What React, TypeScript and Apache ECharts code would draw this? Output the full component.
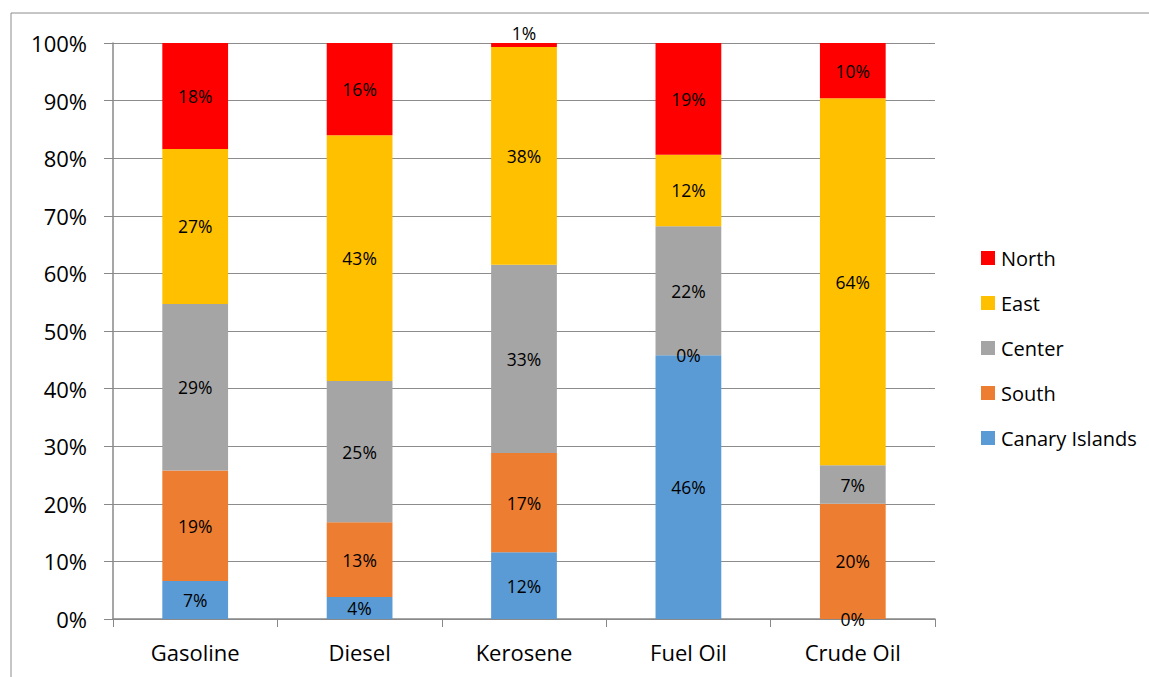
import React, { useEffect, useRef } from "react";
import * as echarts from "echarts";

const categories = ["Gasoline", "Diesel", "Kerosene", "Fuel Oil", "Crude Oil"];
const canaryIslands = [6.6, 3.8, 11.6, 45.8, 0];
const south = [19.2, 13.0, 17.2, 0, 20.0];
const center = [28.9, 24.5, 32.7, 22.4, 6.7];
const east = [26.9, 42.7, 37.8, 12.4, 63.7];
const north = [18.4, 16.0, 0.7, 19.4, 9.6];
const yTicks = [0, 10, 20, 30, 40, 50, 60, 70, 80, 90, 100];

const FONT = "'Open Sans', 'Liberation Sans', sans-serif";

export default function App() {
  const ref = useRef<HTMLDivElement>(null);
  useEffect(() => {
    if (!ref.current) return;
    const chart = echarts.init(ref.current, null, { renderer: "svg" });
    const mk = (name: string, data: number[], color: string) => ({
      name,
      type: "bar",
      stack: "total",
      barWidth: "40%",
      itemStyle: { color },
      label: {
        show: true,
        position: "inside",
        fontSize: 17.5,
        fontFamily: FONT,
        color: "#000",
        formatter: (p: any) => Math.round(p.value) + "%",
      },
      data: data.map((v) =>
        name === "North" && v < 2
          ? { value: v, label: { position: "top", distance: 1 } }
          : v
      ),
    });
    chart.setOption({
      animation: false,
      textStyle: { fontFamily: FONT },
      graphic: [
        {
          type: "rect",
          shape: { x: 11, y: 13, width: 1300, height: 800 },
          style: { fill: "none", stroke: "#8c8c8c", lineWidth: 1 },
          silent: true,
        },
      ],
      grid: { left: 113, right: 214, top: 43, bottom: 58, containLabel: false },
      legend: {
        orient: "vertical",
        left: 976,
        top: 243,
        itemWidth: 14,
        itemHeight: 14,
        itemGap: 25,
        icon: "rect",
        textStyle: { fontSize: 20, fontFamily: FONT, color: "#000", padding: [0, 0, 0, 1] },
        data: ["North", "East", "Center", "South", "Canary Islands"],
      },
      xAxis: {
        type: "category",
        data: categories,
        axisLine: { show: true, lineStyle: { color: "#888", width: 1.5 } },
        axisTick: { show: true, length: 8, lineStyle: { color: "#888" } },
        axisLabel: { fontSize: 22, fontFamily: FONT, color: "#000", margin: 22 },
      },
      yAxis: {
        type: "value",
        min: yTicks[0],
        max: yTicks[yTicks.length - 1],
        interval: 10,
        axisLine: { show: true, lineStyle: { color: "#888", width: 1.5 } },
        axisTick: { show: true, length: 9, lineStyle: { color: "#888" } },
        axisLabel: {
          fontSize: 22,
          fontFamily: FONT,
          color: "#000",
          margin: 26,
          formatter: (v: number) => v + "%",
        },
        splitLine: { show: true, lineStyle: { color: "#8c8c8c", width: 1 } },
      },
      series: [
        mk("Canary Islands", canaryIslands, "#5b9bd5"),
        mk("South", south, "#ed7d31"),
        mk("Center", center, "#a5a5a5"),
        mk("East", east, "#ffc000"),
        mk("North", north, "#ff0000"),
      ],
    });
    return () => chart.dispose();
  }, []);
  return (
    <div
      ref={ref}
      style={{ position: "fixed", left: 0, top: 0, width: 1149, height: 677, background: "#fff" }}
    />
  );
}
